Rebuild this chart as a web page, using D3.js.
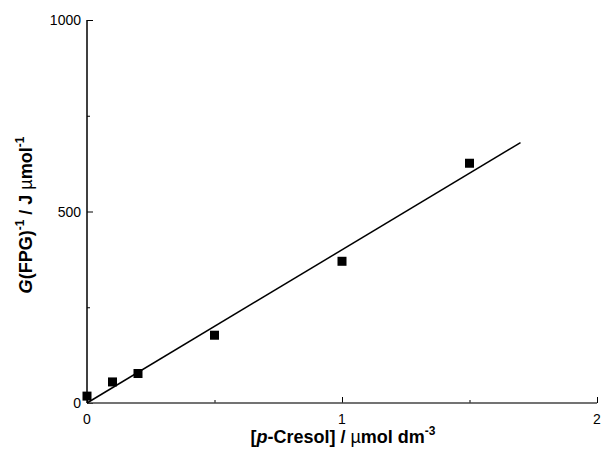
<!DOCTYPE html>
<html>
<head>
<meta charset="utf-8">
<script src="https://cdn.jsdelivr.net/npm/d3@7"></script>
<style>
  body { margin: 0; background: #fff; }
  svg { display: block; font-family: "Liberation Sans", Arial, sans-serif; }
</style>
</head>
<body>
<svg width="601" height="451"></svg>
<script>
var cresol = [0, 0.1, 0.2, 0.5, 1.0, 1.5];
var invG = [18, 55, 77, 177, 370, 626];
var fitX = [0, 1.7];
var fitY = [0, 680];
var xTicks = [0, 1, 2],
    xMinor = [0.5, 1.5];
var yTicks = [0, 500, 1000],
    yMinor = [250, 750];

var svg = d3.select('svg');

var x = d3.scaleLinear().domain([0, 2]).range([87, 597]);
var y = d3.scaleLinear().domain([0, 1000]).range([403, 20]);

// axes, ticks pointing inward
svg.append('g')
    .attr('transform', 'translate(0,' + y(0) + ')')
    .call(d3.axisTop(x).tickValues(xTicks).tickSize(6).tickFormat(''))
    .call(function(g) { g.select('.domain').remove(); });

svg.append('g')
    .attr('transform', 'translate(0,' + y(0) + ')')
    .call(d3.axisTop(x).tickValues(xMinor).tickSize(3).tickFormat(''))
    .call(function(g) { g.select('.domain').remove(); });

svg.append('g')
    .attr('transform', 'translate(' + x(0) + ',0)')
    .call(d3.axisRight(y).tickValues(yTicks).tickSize(6).tickFormat(''))
    .call(function(g) { g.select('.domain').remove(); });

svg.append('g')
    .attr('transform', 'translate(' + x(0) + ',0)')
    .call(d3.axisRight(y).tickValues(yMinor).tickSize(3).tickFormat(''))
    .call(function(g) { g.select('.domain').remove(); });

svg.append('line')
    .attr('x1', x(0)).attr('x2', x(2))
    .attr('y1', y(0)).attr('y2', y(0))
    .attr('stroke', '#444').attr('stroke-width', 1.5);

svg.append('line')
    .attr('x1', x(0)).attr('x2', x(0))
    .attr('y1', y(0)).attr('y2', y(1000))
    .attr('stroke', '#000').attr('stroke-width', 1.5);

// tick labels
svg.selectAll('.xl').data(xTicks).enter().append('text')
    .attr('x', function(d) { return x(d); })
    .attr('y', 424)
    .attr('text-anchor', 'middle')
    .attr('font-size', 14)
    .text(function(d) { return d; });

svg.selectAll('.yl').data(yTicks).enter().append('text')
    .attr('x', 81)
    .attr('y', function(d) { return y(d) + 5; })
    .attr('text-anchor', 'end')
    .attr('font-size', 14)
    .text(function(d) { return d; });

// fit line
svg.append('line')
    .attr('x1', x(fitX[0])).attr('y1', y(fitY[0]))
    .attr('x2', x(fitX[1])).attr('y2', y(fitY[1]))
    .attr('stroke', '#000').attr('stroke-width', 1.5);

// points
var s = 9;
svg.selectAll('.pt').data(cresol).enter().append('rect')
    .attr('x', function(d) { return x(d) - s / 2; })
    .attr('y', function(d, i) { return y(invG[i]) - s / 2; })
    .attr('width', s).attr('height', s)
    .attr('fill', '#000');

// axis titles
var xt = svg.append('text')
    .attr('x', 343).attr('y', 443)
    .attr('text-anchor', 'middle')
    .attr('font-size', 18)
    .attr('font-weight', 'bold');
xt.append('tspan').text('[');
xt.append('tspan').attr('font-style', 'italic').text('p');
xt.append('tspan').text('-Cresol] / ');
xt.append('tspan').attr('font-weight', 'normal').text('\u00b5');
xt.append('tspan').text('mol dm');
xt.append('tspan').attr('font-size', 12).attr('dy', -8).text('-3');

var yt = svg.append('text')
    .attr('transform', 'translate(32,215) rotate(-90)')
    .attr('text-anchor', 'middle')
    .attr('font-size', 18)
    .attr('font-weight', 'bold');
yt.append('tspan').attr('font-style', 'italic').text('G');
yt.append('tspan').text('(FPG)');
yt.append('tspan').attr('font-size', 12).attr('dy', -8).text('-1');
yt.append('tspan').attr('dy', 8).text(' / J ');
yt.append('tspan').attr('font-weight', 'normal').text('\u00b5');
yt.append('tspan').text('mol');
yt.append('tspan').attr('font-size', 12).attr('dy', -8).text('-1');
</script>
</body>
</html>
